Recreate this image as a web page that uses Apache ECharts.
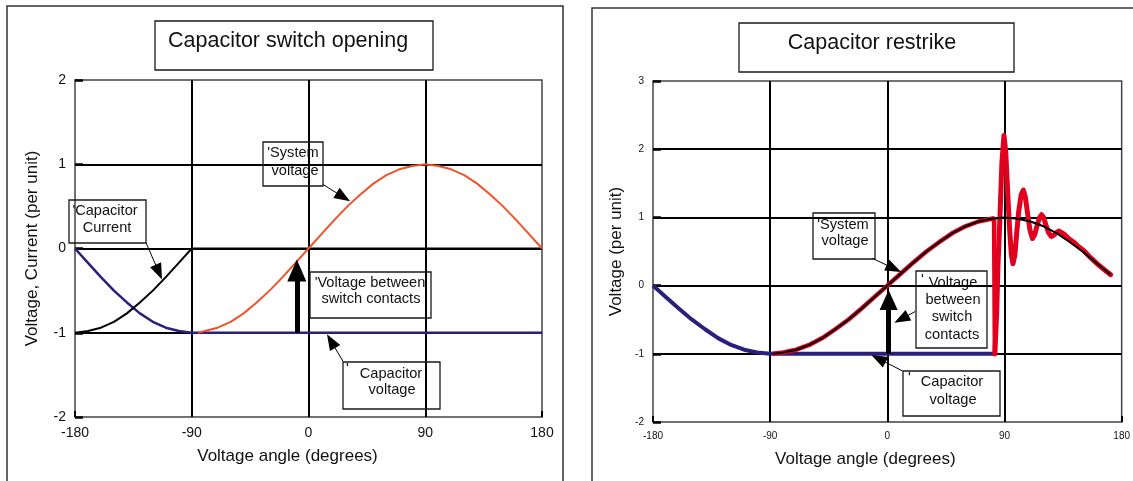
<!DOCTYPE html>
<html>
<head>
<meta charset="utf-8">
<title>Capacitor switch opening / restrike</title>
<script src="https://cdn.jsdelivr.net/npm/echarts@6/dist/echarts.min.js"></script>
<style>
html, body { margin: 0; padding: 0; background: #fff; }
#main { width: 1133px; height: 481px; }
</style>
</head>
<body>
<div id="main"></div>
<script>
// axis ticks
const angleTicks = [-180, -90, 0, 90, 180];
const openingTicks = [-2, -1, 0, 1, 2];
const restrikeTicks = [-2, -1, 0, 1, 2, 3];

// left plot: capacitor switch opening
const capAnglesA = [-180, -170, -160, -150, -140, -130, -120, -110, -100, -90, 180];
const capVoltageA = [0, -0.17, -0.34, -0.5, -0.64, -0.77, -0.87, -0.94, -0.98, -1, -1];
const capCurrentA = [-1, -0.98, -0.94, -0.87, -0.77, -0.64, -0.5, -0.34, -0.17, 0, 0];
const sysAnglesA = [-85, -80, -70, -60, -50, -40, -30, -20, -10, 0, 10, 20, 30, 40, 50, 60, 70, 80, 90,
  100, 110, 120, 130, 140, 150, 160, 170, 180];
const sysVoltageA = [-1, -0.98, -0.94, -0.87, -0.77, -0.64, -0.5, -0.34, -0.17, 0, 0.17, 0.34, 0.5, 0.64, 0.77, 0.87, 0.94, 0.98, 1,
  0.98, 0.94, 0.87, 0.77, 0.64, 0.5, 0.34, 0.17, 0];

// right plot: capacitor restrike
const capAnglesB = [-180, -170, -160, -150, -140, -130, -120, -110, -100, -90, 82.5];
const capVoltageB = [0, -0.17, -0.34, -0.5, -0.64, -0.77, -0.87, -0.94, -0.98, -1, -1];
const sysAnglesB = [-88, -80, -70, -60, -50, -40, -30, -20, -10, 0, 10, 20, 30, 40, 50, 60, 70, 80, 90,
  100, 110, 120, 130, 140, 150, 160, 171.6];
const sysVoltageB = [-1, -0.98, -0.94, -0.87, -0.77, -0.64, -0.5, -0.34, -0.17, 0, 0.17, 0.34, 0.5, 0.64, 0.77, 0.87, 0.94, 0.98, 1,
  0.98, 0.94, 0.87, 0.77, 0.64, 0.5, 0.34, 0.16];
// red trace before the restrike (under the system voltage) and the ringing after it
const preRestrikeAngles = [-88, -80, -70, -60, -50, -40, -30, -20, -10, 0, 10, 20, 30, 40, 50, 60, 70, 80, 82, 82.6];
const preRestrikeVoltage = [-1, -0.98, -0.94, -0.87, -0.77, -0.64, -0.5, -0.34, -0.17, 0, 0.17, 0.34, 0.5, 0.64, 0.77, 0.87, 0.94, 0.98, 0.99, -1];
const ringAngles = [82.6, 84, 85, 86.5, 88, 89.6, 91, 92.5, 94, 95.3, 96.5, 98, 99.5, 101, 102.8, 104.5, 106, 107.8,
  109.5, 111.5, 113.3, 115, 117, 118.5, 120, 122, 124, 126, 128, 130, 132, 133.5, 136, 140, 143, 147, 151, 155, 159,
  163, 167, 171.6];
const ringVoltage = [-1, -0.4, 0.3, 1.0, 1.8, 2.2, 1.95, 1.35, 0.8, 0.45, 0.32, 0.45, 0.8, 1.1, 1.33, 1.4, 1.3, 1.05,
  0.82, 0.69, 0.75, 0.88, 1.0, 1.04, 1.0, 0.88, 0.77, 0.72, 0.74, 0.78, 0.8, 0.8, 0.75, 0.68, 0.64, 0.57, 0.51, 0.43, 0.36,
  0.29, 0.23, 0.16];

const FONT = '"Liberation Sans", Arial, sans-serif';
const pair = (xs, ys) => xs.map((x, i) => [x, ys[i]]);

const chart = echarts.init(document.getElementById('main'));

function xAxisFor(gridIndex, labelSize, nameGap, namePad) {
  return {
    type: 'value', gridIndex: gridIndex,
    min: angleTicks[0], max: angleTicks[angleTicks.length - 1], interval: angleTicks[1] - angleTicks[0],
    name: 'Voltage angle (degrees)', nameLocation: 'middle', nameGap: nameGap,
    nameTextStyle: { fontFamily: FONT, fontSize: 17, color: '#111', padding: [0, namePad, 0, 0] },
    axisLine: { show: false, onZero: false },
    axisTick: { show: true, inside: true, length: 6, lineStyle: { color: '#000', width: 2 } },
    axisLabel: { fontFamily: FONT, fontSize: labelSize, color: '#111', margin: 9 },
    splitLine: { show: true, showMinLine: false, showMaxLine: false, lineStyle: { color: '#000', width: 2 } }
  };
}

function yAxisFor(gridIndex, ticks, name, labelSize, nameGap) {
  return {
    type: 'value', gridIndex: gridIndex,
    min: ticks[0], max: ticks[ticks.length - 1], interval: ticks[1] - ticks[0],
    name: name, nameLocation: 'middle', nameGap: nameGap,
    nameTextStyle: { fontFamily: FONT, fontSize: 17, color: '#111' },
    axisLine: { show: false, onZero: false },
    axisTick: { show: true, inside: true, length: 8, lineStyle: { color: '#000', width: 2.5 } },
    axisLabel: { fontFamily: FONT, fontSize: labelSize, color: '#111', margin: 9 },
    splitLine: { show: true, showMinLine: false, showMaxLine: false, lineStyle: { color: '#000', width: 2 } }
  };
}

// thin pointer from a note box to a curve, triangle head at the end
function pointer(from, to, width, head) {
  return [
    { coord: from, symbol: 'none', lineStyle: { color: '#000', width: width, type: 'solid' } },
    { coord: to, symbol: 'triangle', symbolSize: head }
  ];
}

function box(x, y, w, h, fill) {
  return { type: 'rect', silent: true, z: 20, shape: { x: x, y: y, width: w, height: h },
    style: { fill: fill || 'none', stroke: '#1a1a1a', lineWidth: 1.3 } };
}
function note(x, y, text, size, align) {
  return { type: 'text', silent: true, z: 21, x: x, y: y,
    style: { text: text, font: size + 'px ' + FONT, fill: '#111', align: align || 'center', verticalAlign: 'middle' } };
}

const NOTE = 14.6;

const option = {
  animation: false,
  backgroundColor: '#fff',
  grid: [
    { left: 75, top: 80, width: 467, height: 337, show: true, borderColor: '#444', borderWidth: 1.5 },
    { left: 653, top: 81, width: 470, height: 341, show: true, borderColor: '#444', borderWidth: 1.5 }
  ],
  xAxis: [xAxisFor(0, 14, 31, 42), xAxisFor(1, 10, 29, 44)],
  yAxis: [
    yAxisFor(0, openingTicks, 'Voltage, Current (per unit)', 14, 34),
    yAxisFor(1, restrikeTicks, 'Voltage (per unit)', 10, 28)
  ],
  series: [
    {
      name: 'Capacitor voltage', type: 'line', xAxisIndex: 0, yAxisIndex: 0,
      data: pair(capAnglesA, capVoltageA), showSymbol: false,
      lineStyle: { color: '#2b1f7c', width: 2.5 }
    },
    {
      name: 'Capacitor current', type: 'line', xAxisIndex: 0, yAxisIndex: 0,
      data: pair(capAnglesA, capCurrentA), showSymbol: false,
      lineStyle: { color: '#000', width: 2 }
    },
    {
      name: 'System voltage', type: 'line', xAxisIndex: 0, yAxisIndex: 0,
      data: pair(sysAnglesA, sysVoltageA), showSymbol: false,
      lineStyle: { color: '#f0532a', width: 2 },
      markLine: {
        silent: true, animation: false, label: { show: false }, emphasis: { disabled: true },
        data: [
          pointer([11.2, 0.76], [26.8, 0.61], 1, [12, 16]),
          pointer([-125.3, 0.07], [-115.4, -0.28], 1, [12, 16]),
          pointer([26.6, -1.34], [17.4, -1.1], 1, [12, 16]),
          pointer([-9, -1], [-9, -0.26], 5, [19, 22])
        ]
      }
    },
    {
      name: 'Capacitor voltage', type: 'line', xAxisIndex: 1, yAxisIndex: 1,
      data: pair(capAnglesB, capVoltageB), showSymbol: false,
      lineStyle: { color: '#2b1f7c', width: 4 }
    },
    {
      name: 'Restrike voltage', type: 'line', xAxisIndex: 1, yAxisIndex: 1,
      data: pair(preRestrikeAngles, preRestrikeVoltage), showSymbol: false,
      lineStyle: { color: '#e2001f', width: 4.5 }
    },
    {
      name: 'Restrike voltage', type: 'line', xAxisIndex: 1, yAxisIndex: 1,
      data: pair(ringAngles, ringVoltage), showSymbol: false,
      lineStyle: { color: '#e2001f', width: 5, join: 'round', cap: 'round' }
    },
    {
      name: 'System voltage', type: 'line', xAxisIndex: 1, yAxisIndex: 1,
      data: pair(sysAnglesB, sysVoltageB), showSymbol: false,
      lineStyle: { color: '#000', width: 2 },
      markLine: {
        silent: true, animation: false, label: { show: false }, emphasis: { disabled: true },
        data: [
          pointer([-11.5, 0.4], [5.1, 0.25], 1, [12, 16]),
          pointer([21.4, -0.38], [10.8, -0.49], 1, [12, 16]),
          pointer([11.5, -1.25], [-6.8, -1.07], 1, [12, 16]),
          pointer([1, -1], [1, -0.21], 5, [18, 20])
        ]
      }
    }
  ],
  graphic: [
    // panel frames
    { type: 'rect', silent: true, z: -1, shape: { x: 7, y: 6, width: 556, height: 500 },
      style: { fill: 'none', stroke: '#333', lineWidth: 1.5 } },
    { type: 'rect', silent: true, z: -1, shape: { x: 592, y: 8, width: 600, height: 500 },
      style: { fill: 'none', stroke: '#333', lineWidth: 1.5 } },

    // left panel notes
    box(155, 21, 278, 49, '#fff'),
    note(168, 41, 'Capacitor switch opening', 21.5, 'left'),
    box(263, 142, 60, 44),
    note(293, 153, '\'System', NOTE), note(295, 171, 'voltage', NOTE),
    box(69, 200, 77, 43),
    note(105, 211, '\'Capacitor', NOTE), note(107, 228, 'Current', NOTE),
    box(310, 272, 121, 46),
    note(370, 283, '\'Voltage between', NOTE), note(371, 299, 'switch contacts', NOTE),
    box(343, 362, 97, 47),
    note(346, 369, '\'', NOTE, 'left'), note(391, 374, 'Capacitor', NOTE), note(392, 390, 'voltage', NOTE),

    // right panel notes
    box(739, 23, 275, 49, '#fff'),
    note(872, 43, 'Capacitor restrike', 21.5),
    box(813, 213, 62, 46),
    note(843, 225, '\'System', NOTE), note(845, 241, 'voltage', NOTE),
    box(916, 271, 71, 77),
    note(921, 280, '\'', NOTE, 'left'), note(953, 283, 'Voltage', NOTE), note(953, 300, 'between', NOTE),
    note(952, 317, 'switch', NOTE), note(952, 335, 'contacts', NOTE),
    box(903, 371, 97, 45),
    note(908, 378, '\'', NOTE, 'left'), note(952, 382, 'Capacitor', NOTE), note(953, 400, 'voltage', NOTE)
  ]
};

chart.setOption(option);
window.addEventListener('resize', () => chart.resize());
</script>
</body>
</html>
